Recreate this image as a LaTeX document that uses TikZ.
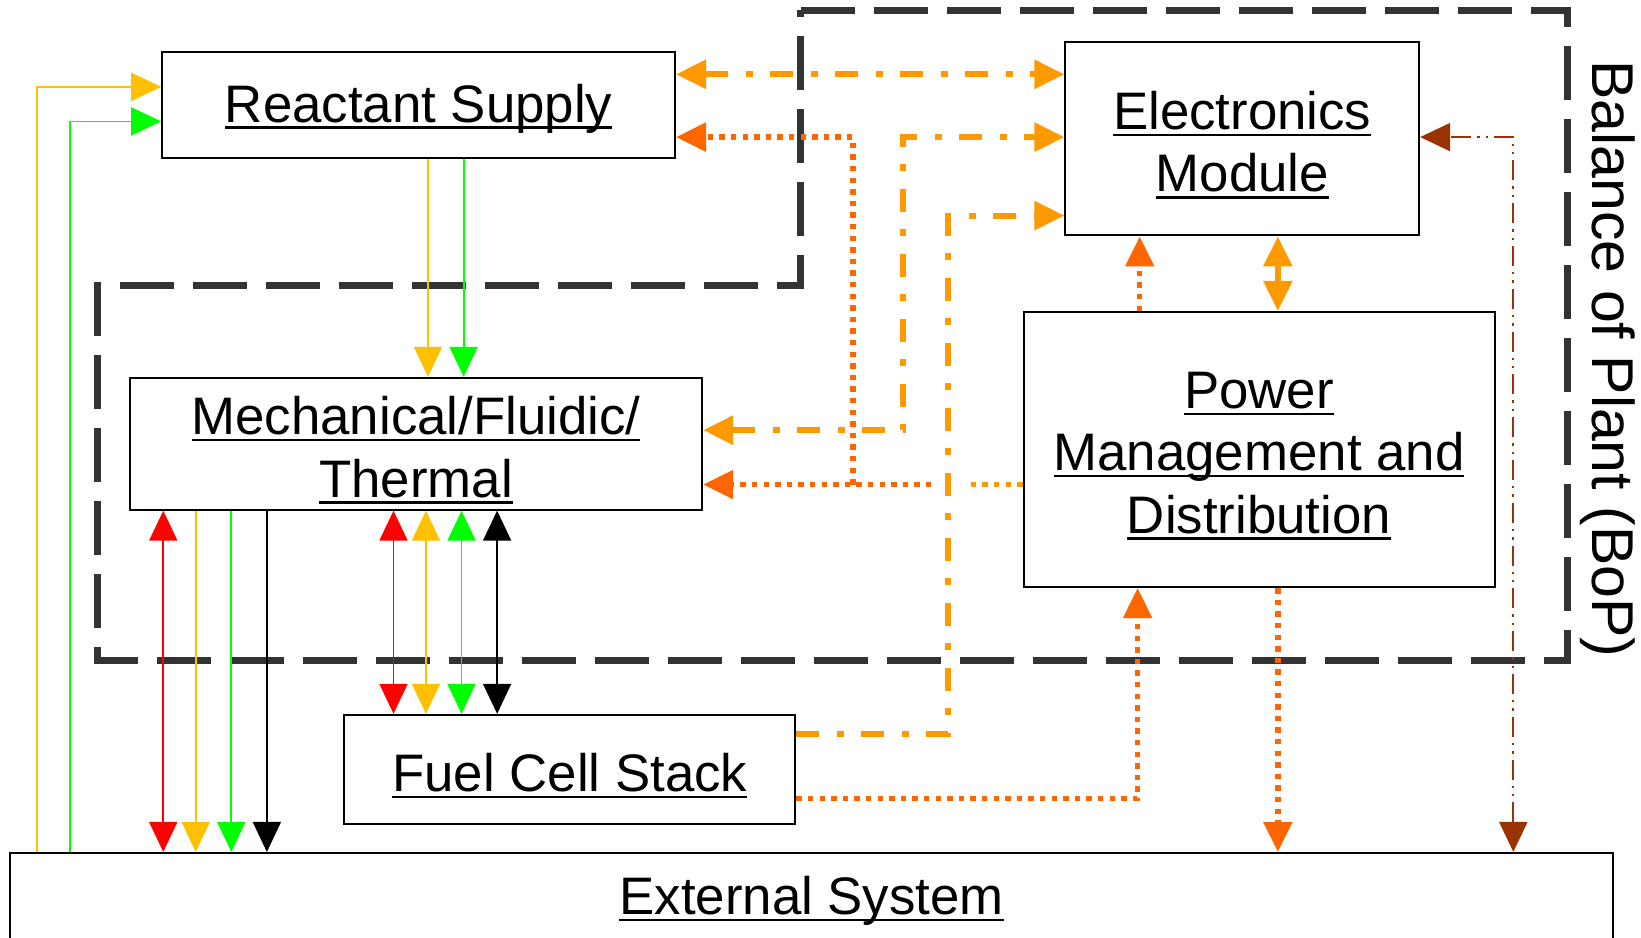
\documentclass[tikz,border=0pt]{standalone}
\usepackage{fontspec}
\setmainfont{Liberation Sans}
\usepackage{tikz}
\usetikzlibrary{shapes, arrows.meta}

\definecolor{fuelyellow}{HTML}{FFC000}
\definecolor{airgreen}{HTML}{00FF00}
\definecolor{ctrlorange}{HTML}{FF9900}
\definecolor{pwrorange}{HTML}{FF6600}
\definecolor{sensebrown}{HTML}{993300}
\definecolor{bopgray}{HTML}{333333}

\newsavebox{\undlbox}
\newcommand{\undl}[1]{\sbox\undlbox{#1}\raisebox{-1.6pt}[\ht\undlbox][\dp\undlbox]{\rlap{\rule[-3.3pt]{\wd\undlbox}{1.1pt}}\usebox\undlbox}}

\begin{document}
\begin{tikzpicture}[x=0.5233pt, y=-0.5233pt, >={Triangle[length=15pt, width=14pt]},
    block/.style={draw, line width=1pt, inner sep=0pt, align=center, font=\fontsize{26.4}{31.2}\selectfont},
    pipe/.style={line width=0.9pt},
    ctrl/.style={draw=ctrlorange, line width=3pt, dash pattern=on 11.5pt off 9pt on 3.5pt off 8.5pt},
    power/.style={draw=pwrorange, line width=2.7pt, dash pattern=on 2.7pt off 3.1pt},
    sense/.style={draw=sensebrown, line width=1pt, dash pattern=on 10pt off 3pt on 1.2pt off 3pt on 1.2pt off 3pt},
    boundary/.style={draw=bopgray, line width=3.5pt, dash pattern=on 27pt off 9.5pt}]
    \useasboundingbox (0,0) rectangle (1568,896);

    \draw[boundary] (765,10) -- (1498,10) -- (1498,631) -- (93,631) -- (93,273) -- (765,273) -- cycle;
    \node[rotate=-90, font=\fontsize{29.5}{34}\selectfont] (bop) at (1536,343) {Balance of Plant (BoP)};

    \node[block, minimum width=256.4pt, minimum height=52.9pt] (rs) at (400,100.5) {\undl{Reactant Supply}};
    \node[block, minimum width=176.9pt, minimum height=96.8pt] (em) at (1187,132.5) {\undl{Electronics}\\\undl{Module}};
    \node[block, minimum width=286.2pt, minimum height=65.9pt] (mech) at (397.5,424) {\undl{Mechanical/Fluidic/}\\\undl{Thermal}};
    \node[block, minimum width=235.5pt, minimum height=137.6pt] (pm) at (1203,429.5) {\undl{Power}\\\undl{Management and}\\\undl{Distribution}};
    \node[block, minimum width=225.5pt, minimum height=54.4pt] (fcs) at (544.5,735) {\undl{Fuel Cell Stack}};
    \node[block, minimum width=801.2pt, minimum height=45pt] (ext) at (775.5,858) {\undl{External System}};

    \draw[->, pipe, fuelyellow] (ext.north -| 35,0) |- (rs.west |- 0,83);
    \draw[->, pipe, airgreen] (ext.north -| 67,0) |- (rs.west |- 0,116);
    \draw[->, pipe, fuelyellow] (rs.south -| 409,0) -- (mech.north -| 409,0);
    \draw[->, pipe, airgreen] (rs.south -| 443,0) -- (mech.north -| 443,0);

    \draw[<->, pipe, red] (mech.south -| 156,0) -- (ext.north -| 156,0);
    \draw[->, pipe, fuelyellow] (mech.south -| 187,0) -- (ext.north -| 187,0);
    \draw[->, pipe, airgreen] (mech.south -| 221,0) -- (ext.north -| 221,0);
    \draw[->, pipe, black] (mech.south -| 255,0) -- (ext.north -| 255,0);

    \draw[<->, pipe, red] (mech.south -| 376,0) -- (fcs.north -| 376,0);
    \draw[<->, pipe, fuelyellow] (mech.south -| 407,0) -- (fcs.north -| 407,0);
    \draw[<->, pipe, airgreen] (mech.south -| 441,0) -- (fcs.north -| 441,0);
    \draw[<->, pipe, black] (mech.south -| 475,0) -- (fcs.north -| 475,0);

    \draw[<->, ctrl] (rs.east |- 0,71) -- (em.west |- 0,71);
    \draw[<->, ctrl] (mech.east |- 0,411) -- (863,411) |- (em.west |- 0,131);
    \draw[->, ctrl] (fcs.east |- 0,701) -- (906,701) |- (em.west |- 0,206);
    \draw[<->, ctrlorange, line width=3pt] (pm.north -| 1221,0) -- (em.south -| 1221,0);

    \coordinate (split) at (815,463);
    \coordinate (gapl) at (890,463);
    \coordinate (gapr) at (922,463);
    \draw[power, draw=ctrlorange] (pm.west |- 0,463) -- (gapr);
    \draw[->, power] (gapl) -- (mech.east |- 0,463);
    \draw[->, power] (split) |- (rs.east |- 0,131);
    \draw[->, power] (fcs.east |- 0,763) -| (pm.south -| 1087,0);
    \draw[->, power] (pm.north -| 1089,0) -- (em.south -| 1089,0);
    \draw[->, power] (pm.south -| 1221,0) -- (ext.north -| 1221,0);

    \draw[<->, sense] (ext.north -| 1446,0) |- (em.east |- 0,131);
\end{tikzpicture}
\end{document}
